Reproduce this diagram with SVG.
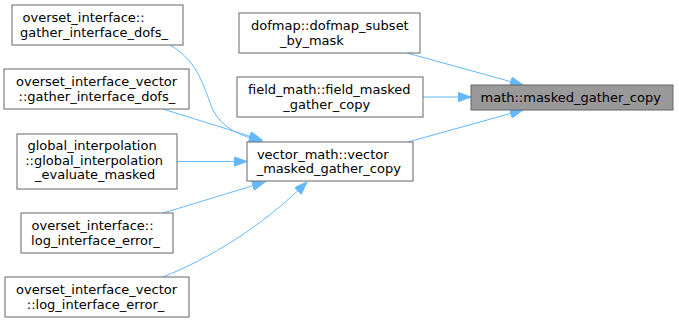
<svg xmlns="http://www.w3.org/2000/svg" width="679" height="323" viewBox="0 0 679 323">
<style>
  .node rect { fill: #ffffff; stroke: #666666; stroke-width: 1; }
  .node.hl rect { fill: #999999; }
  .node text { font-family: "DejaVu Sans", sans-serif; font-size: 13px; text-anchor: start; fill: #000000; }
  .edge { fill: none; stroke: #63b8ff; stroke-width: 1; marker-end: url(#arr); }
</style>
<defs>
  <marker id="arr" markerUnits="userSpaceOnUse" markerWidth="14" markerHeight="10" refX="13" refY="4.75" orient="auto">
    <path d="M0,0 L13,4.75 L0,9.5 z" fill="#63b8ff" stroke="#63b8ff" stroke-width="1"/>
  </marker>
</defs>
<rect width="679" height="323" fill="#ffffff"/>
<g id="connectors">
  <path class="edge" d="M170,45 C200,62 205,92 213,110 C222,128 240,136 262,141"/>
  <path class="edge" d="M163,109 L262,140"/>
  <path class="edge" d="M177,161.5 L247,161.5"/>
  <path class="edge" d="M163,213 L265,182"/>
  <path class="edge" d="M163,277 C210,258 260,228 307,182"/>
  <path class="edge" d="M407,53 L523,85"/>
  <path class="edge" d="M423,97 L471,97"/>
  <path class="edge" d="M408,142 L523,110"/>
</g>
<g id="n_gather_dofs" class="node">
  <rect x="12" y="5" width="171" height="40"/>
  <text x="22.5" y="22">overset_interface::</text>
  <text x="20" y="36.5">gather_interface_dofs_</text>
</g>
<g id="n_gather_dofs_vec" class="node">
  <rect x="4" y="69" width="185" height="40"/>
  <text x="16" y="86">overset_interface_vector</text>
  <text x="18.5" y="100.5">::gather_interface_dofs_</text>
</g>
<g id="n_global_interp" class="node">
  <rect x="17" y="134" width="160" height="55"/>
  <text x="27.5" y="150">global_interpolation</text>
  <text x="25.2" y="164.5">::global_interpolation</text>
  <text x="35" y="179">_evaluate_masked</text>
</g>
<g id="n_log_err" class="node">
  <rect x="21" y="213" width="152" height="40"/>
  <text x="31.5" y="230">overset_interface::</text>
  <text x="31.1" y="244.5">log_interface_error_</text>
</g>
<g id="n_log_err_vec" class="node">
  <rect x="5" y="277" width="184" height="40"/>
  <text x="16" y="294">overset_interface_vector</text>
  <text x="26.8" y="308.5">::log_interface_error_</text>
</g>
<g id="n_dofmap" class="node">
  <rect x="239" y="13" width="181" height="40"/>
  <text x="251" y="30">dofmap::dofmap_subset</text>
  <text x="280" y="44.5">_by_mask</text>
</g>
<g id="n_field_math" class="node">
  <rect x="237" y="77" width="186" height="40"/>
  <text x="248" y="94">field_math::field_masked</text>
  <text x="283.3" y="108.5">_gather_copy</text>
</g>
<g id="n_vector_math" class="node">
  <rect x="247" y="142" width="166" height="39"/>
  <text x="256.9" y="158.5">vector_math::vector</text>
  <text x="256.7" y="173">_masked_gather_copy</text>
</g>
<g id="n_math" class="node hl">
  <rect x="471" y="85" width="202" height="25"/>
  <text x="480.5" y="102">math::masked_gather_copy</text>
</g>
</svg>
